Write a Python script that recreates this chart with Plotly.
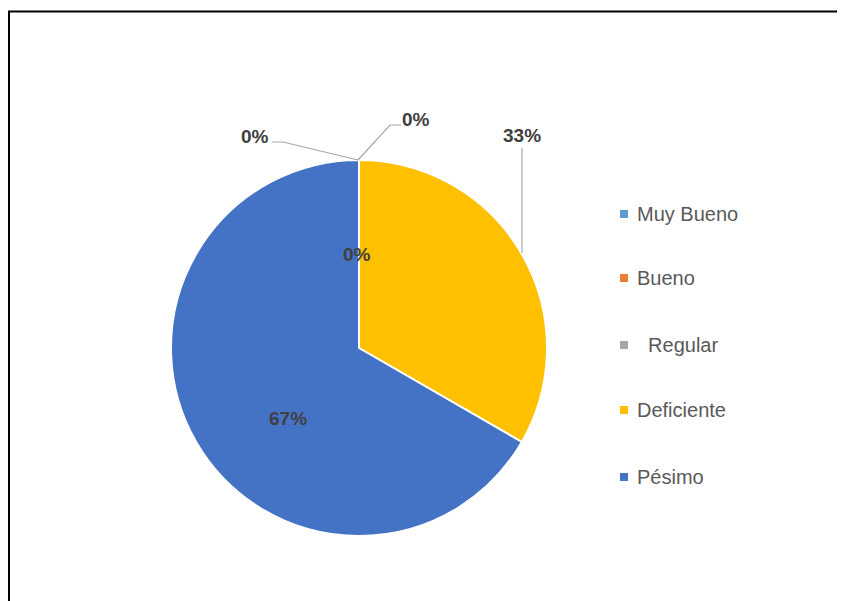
import plotly.graph_objects as go

# ---- data ----
categories = ["Muy Bueno", "Bueno", "  Regular", "Deficiente", "Pésimo"]
values = [0, 0, 0, 1, 2]
colors = ["#5B9BD5", "#ED7D31", "#A5A5A5", "#FFC000", "#4472C4"]

OFF = 8  # page body margin
W, H = 845 - OFF, 601 - OFF
def px(x): return (x - OFF) / W
def py(y): return 1 - (y - OFF) / H

total = sum(values)
pcts = [f"{round(v / total * 100)}%" for v in values]

# pie geometry (pixels)
cx, cy, r = 359, 348, 188

fig = go.Figure()
fig.add_trace(go.Pie(
    labels=categories,
    values=values,
    marker=dict(colors=colors, line=dict(color="white", width=2)),
    sort=False,
    direction="clockwise",
    rotation=0,
    textinfo="none",
    hoverinfo="label+percent",
    showlegend=False,
    domain=dict(x=[px(cx - r), px(cx + r)], y=[py(cy + r), py(cy - r)]),
))

# data label positions (pixels) per category
label_pos = [(255, 137), (416, 119), (357, 254), (522, 135), (288, 418)]
annotations = []
for (x, y), t in zip(label_pos, pcts):
    annotations.append(dict(
        x=px(x), y=py(y), xref="paper", yref="paper", text=f"<b>{t}</b>",
        showarrow=False, xanchor="center", yanchor="middle",
        font=dict(family="Liberation Sans, Arial, sans-serif", size=19, color="#404040"),
    ))

# legend (manual, for Excel-like spacing)
legend_y = [214, 278, 345, 410, 477]
shapes = []
for cat, col, y in zip(categories, colors, legend_y):
    shapes.append(dict(type="rect", xref="paper", yref="paper",
                       x0=px(620), x1=px(628), y0=py(y + 4), y1=py(y - 4),
                       fillcolor=col, line=dict(width=0)))
    annotations.append(dict(
        x=px(635), y=py(y), xref="paper", yref="paper", text=cat,
        showarrow=False, xanchor="left", yanchor="middle",
        font=dict(family="Liberation Sans, Arial, sans-serif", size=20, color="#595959"),
    ))

# leader lines
lc = "#A6A6A6"
leaders = [
    f"M {px(272)},{py(142)} L {px(283)},{py(142)} L {px(358)},{py(160)}",
    f"M {px(358)},{py(160)} L {px(390)},{py(125)} L {px(401)},{py(125)}",
    f"M {px(522)},{py(148)} L {px(522)},{py(253)}",
]
for p in leaders:
    shapes.append(dict(type="path", xref="paper", yref="paper", path=p,
                       line=dict(color=lc, width=1.2)))

# chart border
shapes.append(dict(type="rect", xref="paper", yref="paper",
                   x0=px(9), x1=px(870), y0=py(640), y1=py(11.5),
                   line=dict(color="black", width=2), fillcolor="rgba(0,0,0,0)"))

fig.update_layout(
    width=W, height=H,
    margin=dict(l=0, r=0, t=0, b=0),
    paper_bgcolor="white", plot_bgcolor="white",
    annotations=annotations, shapes=shapes,
    showlegend=False,
)

fig.write_html("out.html")
